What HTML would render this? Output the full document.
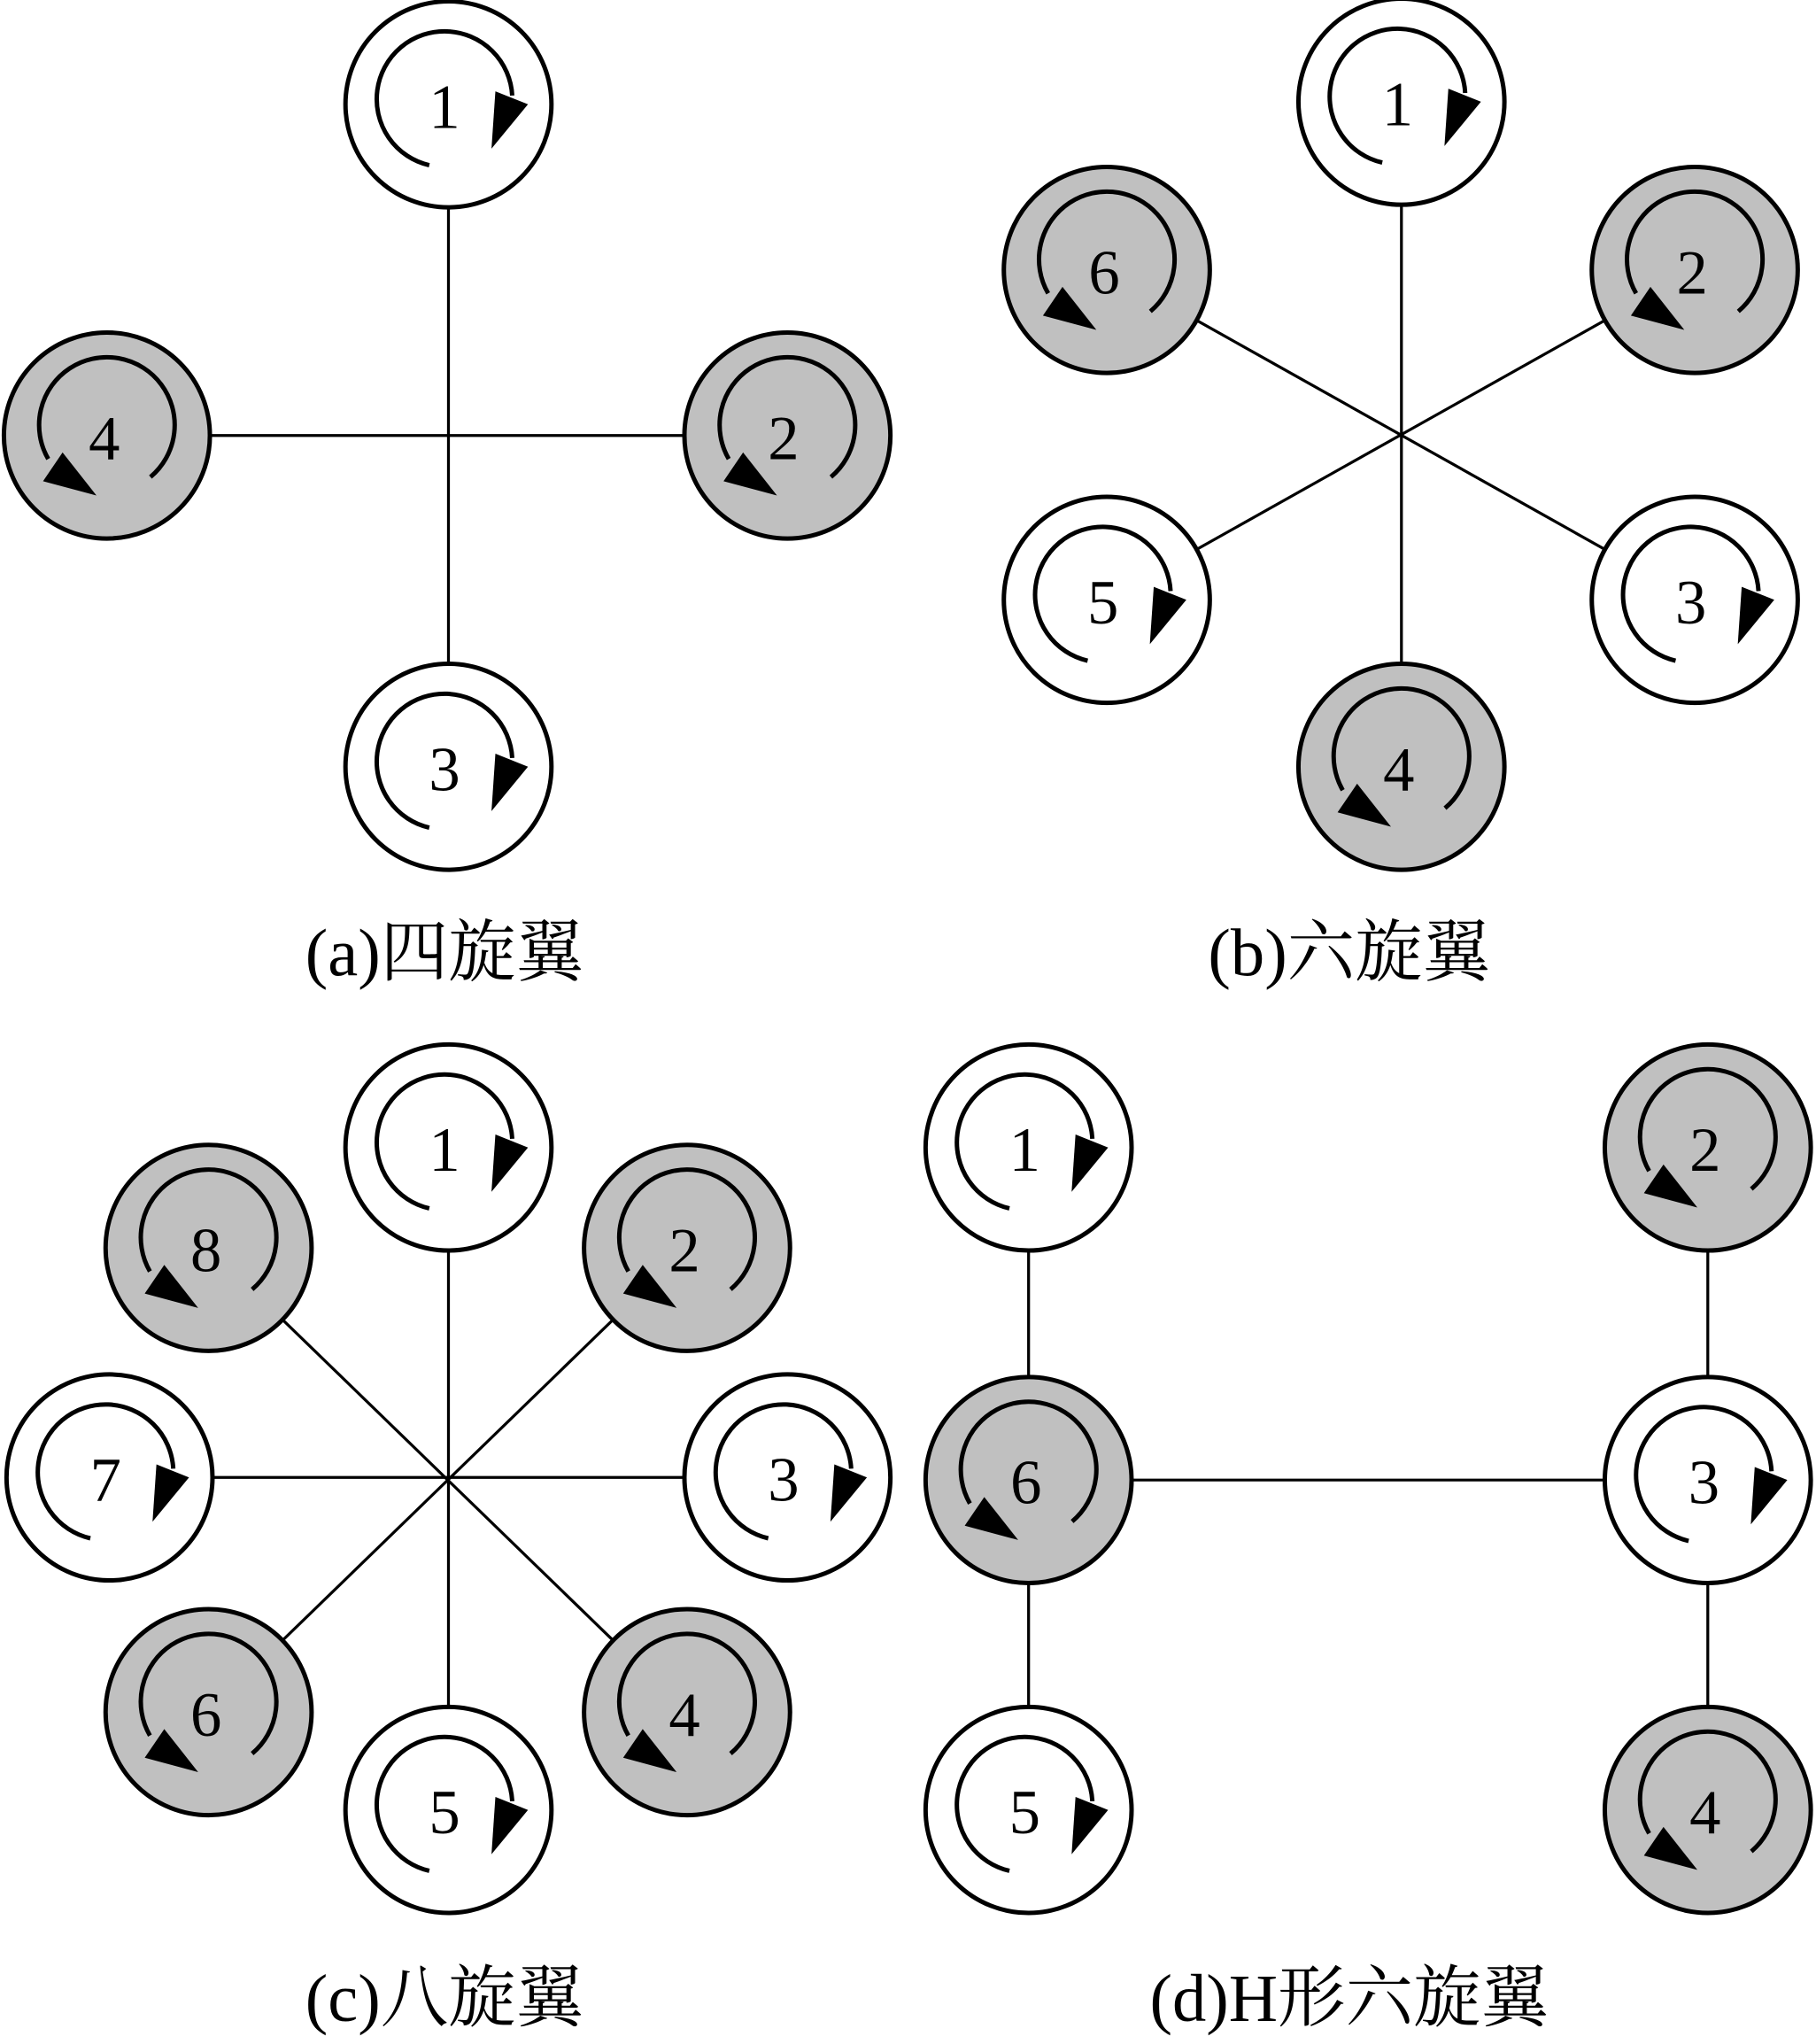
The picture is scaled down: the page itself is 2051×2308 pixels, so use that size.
<!DOCTYPE html>
<html><head><meta charset="utf-8"><style>html,body{margin:0;padding:0;background:#fff}svg{display:block}</style></head>
<body>
<svg width="2051" height="2308" viewBox="0 0 1393 1567.5" preserveAspectRatio="none" xmlns="http://www.w3.org/2000/svg">
<defs>
<g id="w">
<circle r="79" fill="#fff" stroke="#000" stroke-width="3.4"/>
<path d="M-14.7 46.7 A52 52 0 1 1 48.9 -6.7" fill="none" stroke="#000" stroke-width="3.4"/>
<polygon points="36,-10 61,0 33,34" fill="#000"/>
</g>
<g id="g">
<circle r="79" fill="#c0c0c0" stroke="#000" stroke-width="3.4"/>
<path d="M33.4 31.8 A52 52 0 1 0 -45 18" fill="none" stroke="#000" stroke-width="3.4"/>
<polygon points="-34,13 -49,35 -8,46" fill="#000"/>
</g>
</defs>
<g stroke="#000" stroke-width="2.2">
<line x1="344" y1="80" x2="344" y2="588"/><line x1="82" y1="334" x2="604" y2="334"/>
<line x1="1075" y1="78" x2="1075" y2="588"/><line x1="849" y1="207" x2="1300" y2="460"/><line x1="1300" y1="207" x2="849" y2="460"/>
<line x1="344" y1="880" x2="344" y2="1388"/><line x1="84" y1="1133" x2="604" y2="1133"/>
<line x1="160" y1="957" x2="527" y2="1313"/><line x1="527" y1="957" x2="160" y2="1313"/>
<line x1="789" y1="880" x2="789" y2="1388"/><line x1="1310" y1="880" x2="1310" y2="1388"/><line x1="789" y1="1135" x2="1310" y2="1135"/>
</g>
<g font-family="Liberation Serif, serif" font-size="48" text-anchor="middle">
<use href="#w" x="344" y="80"/><text x="341" y="98">1</text>
<use href="#g" x="604" y="334"/><text x="601" y="352">2</text>
<use href="#w" x="344" y="588"/><text x="341" y="606">3</text>
<use href="#g" x="82" y="334"/><text x="80" y="352">4</text>

<use href="#w" x="1075" y="78"/><text x="1072" y="96">1</text>
<use href="#g" x="1300" y="207"/><text x="1298" y="225">2</text>
<use href="#w" x="1300" y="460"/><text x="1297" y="478">3</text>
<use href="#g" x="1075" y="588"/><text x="1073" y="606">4</text>
<use href="#w" x="849" y="460"/><text x="846" y="478">5</text>
<use href="#g" x="849" y="207"/><text x="847" y="225">6</text>

<use href="#w" x="344" y="880"/><text x="341" y="898">1</text>
<use href="#g" x="527" y="957"/><text x="525" y="975">2</text>
<use href="#w" x="604" y="1133"/><text x="601" y="1151">3</text>
<use href="#g" x="527" y="1313"/><text x="525" y="1331">4</text>
<use href="#w" x="344" y="1388"/><text x="341" y="1406">5</text>
<use href="#g" x="160" y="1313"/><text x="158" y="1331">6</text>
<use href="#w" x="84" y="1133"/><text x="81" y="1151">7</text>
<use href="#g" x="160" y="957"/><text x="158" y="975">8</text>

<use href="#w" x="789" y="880"/><text x="786" y="898">1</text>
<use href="#g" x="1310" y="880"/><text x="1308" y="898">2</text>
<use href="#w" x="1310" y="1135"/><text x="1307" y="1153">3</text>
<use href="#g" x="1310" y="1388"/><text x="1308" y="1406">4</text>
<use href="#w" x="789" y="1388"/><text x="786" y="1406">5</text>
<use href="#g" x="789" y="1135"/><text x="787" y="1153">6</text>
</g>
<g font-family="Liberation Serif, 'Noto Serif CJK SC', serif" font-size="52" text-anchor="middle">
<text x="341" y="748">(a)四旋翼</text>
<text x="1035" y="748">(b)六旋翼</text>
<text x="341" y="1550">(c)八旋翼</text>
<text x="1035" y="1550">(d)H形六旋翼</text>
</g>
</svg>
</body></html>
